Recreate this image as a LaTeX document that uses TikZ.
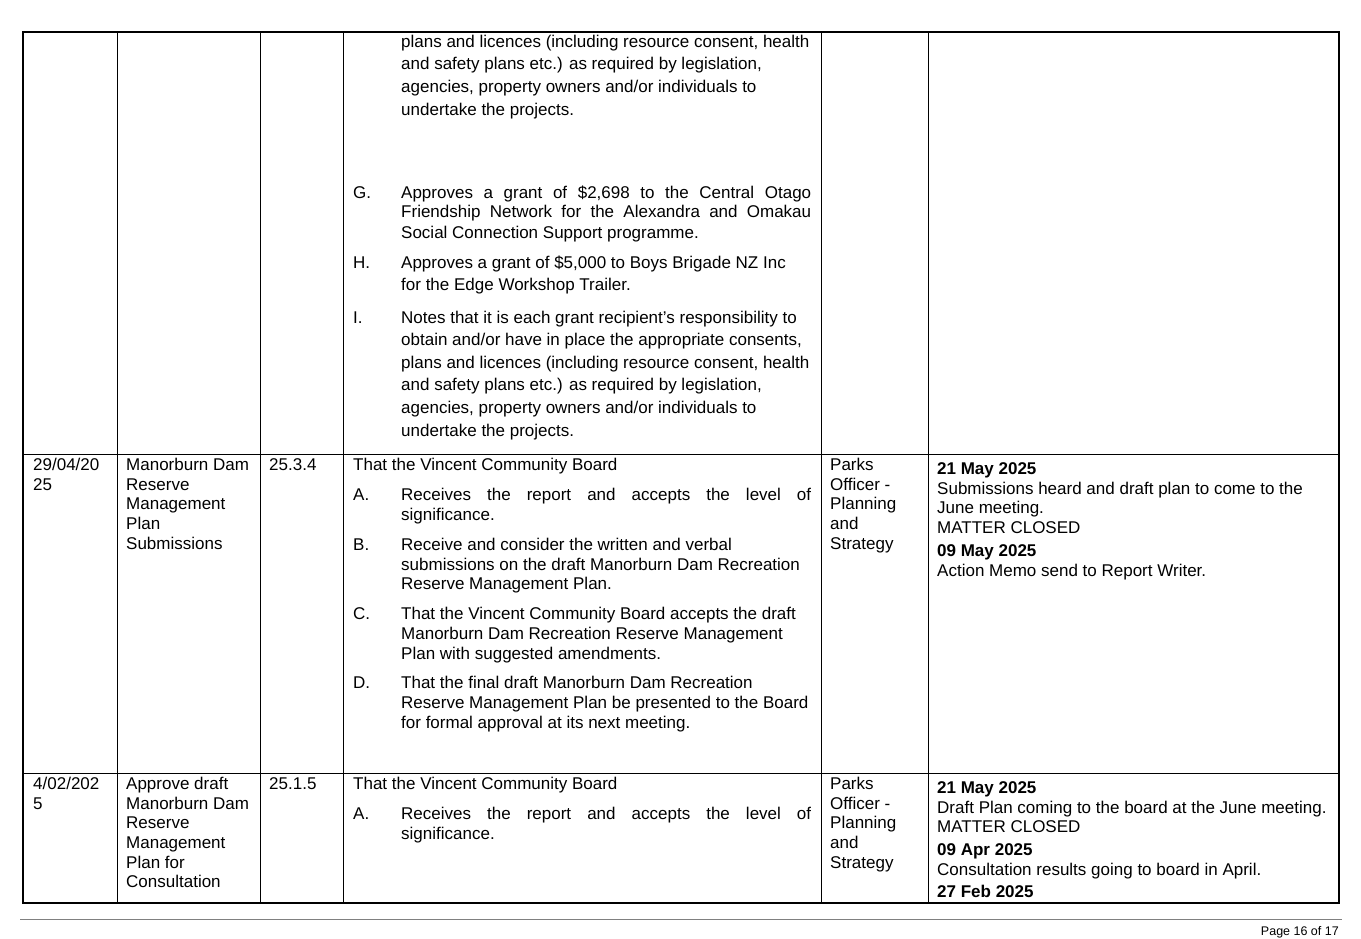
\documentclass[tikz,border=0pt]{standalone}
\usepackage{fontspec}
\setmainfont{Liberation Sans}
\tikzset{
  cell/.style={anchor=base west,inner sep=0pt,font=\fontsize{17}{20}\selectfont},
  hd/.style={cell,font=\fontsize{17}{20}\selectfont\bfseries},
  rule/.style={line width=1pt},
}
\newcommand{\jl}[1]{\makebox[410pt][s]{#1}}
\begin{document}
\begin{tikzpicture}[x=1pt,y=-1pt]
  \useasboundingbox (0,0) rectangle (1361,939);

  % Table frame
  \draw[line width=1.4pt] (23,32) rectangle (1339,903);
  \foreach \x in {117,260,343,821,928}
  \draw[rule] (\x,32) -- (\x,903);
  \foreach \y in {454,773}
  \draw[rule] (23,\y) -- (1339,\y);

  % Row 1, resolution text
  \foreach \y/\t in {43/{plans and licences (including resource consent, health},
    65/{and safety plans etc.) as required by legislation,},
    88/{agencies, property owners and/or individuals to},
    111/{undertake the projects.},
    233/{Social Connection Support programme.},
    263/{Approves a grant of \$5,000 to Boys Brigade NZ Inc},
    285/{for the Edge Workshop Trailer.},
    318/{Notes that it is each grant recipient’s responsibility to},
    340/{obtain and/or have in place the appropriate consents,},
    363/{plans and licences (including resource consent, health},
    385/{and safety plans etc.) as required by legislation,},
    408/{agencies, property owners and/or individuals to},
    431/{undertake the projects.}}
  \node[cell] at (401,\y+5) {\t};
  \node[cell] at (401,198) {\jl{Approves a grant of \$2,698 to the Central Otago}};
  \node[cell] at (401,218) {\jl{Friendship Network for the Alexandra and Omakau}};
  \foreach \y/\t in {193/G.,263/H.,318/I.}
  \node[cell] at (353,\y+5) {\t};

  % Row 2
  \foreach \y/\t in {465/{29/04/20},485/25}
  \node[cell] at (33,\y+5) {\t};
  \foreach \y/\t in {465/Manorburn Dam,485/Reserve,504/Management,524/Plan,544/Submissions}
  \node[cell] at (126,\y+5) {\t};
  \node[cell] (r2ref) at (269,470) {25.3.4};
  \node[cell] at (353,470) {That the Vincent Community Board};
  \foreach \y/\t in {495/A.,545/B.,614/C.,683/D.}
  \node[cell] at (353,\y+5) {\t};
  \node[cell] at (401,500) {\jl{Receives the report and accepts the level of}};
  \foreach \y/\t in {515/{significance.},
    545/{Receive and consider the written and verbal},
    565/{submissions on the draft Manorburn Dam Recreation},
    584/{Reserve Management Plan.},
    614/{That the Vincent Community Board accepts the draft},
    634/{Manorburn Dam Recreation Reserve Management},
    654/{Plan with suggested amendments.},
    683/{That the final draft Manorburn Dam Recreation},
    703/{Reserve Management Plan be presented to the Board},
    723/{for formal approval at its next meeting.}}
  \node[cell] at (401,\y+5) {\t};
  \foreach \y/\t in {465/Parks,485/Officer -,504/Planning,524/and,544/Strategy}
  \node[cell] at (830,\y+5) {\t};
  \node[hd] at (937,474) {21 May 2025};
  \foreach \y/\t in {489/{Submissions heard and draft plan to come to the},
    508/{June meeting.},528/{MATTER CLOSED},571/{Action Memo send to Report Writer.}}
  \node[cell] at (937,\y+5) {\t};
  \node[hd] at (937,556) {09 May 2025};

  % Row 3
  \foreach \y/\t in {784/{4/02/202},804/5}
  \node[cell] at (33,\y+5) {\t};
  \foreach \y/\t in {784/Approve draft,804/Manorburn Dam,823/Reserve,843/Management,863/Plan for,882/Consultation}
  \node[cell] at (126,\y+5) {\t};
  \node[cell] (r3ref) at (269,789) {25.1.5};
  \node[cell] at (353,789) {That the Vincent Community Board};
  \node[cell] at (353,819) {A.};
  \node[cell] at (401,819) {\jl{Receives the report and accepts the level of}};
  \node[cell] at (401,839) {significance.};
  \foreach \y/\t in {784/Parks,804/Officer -,823/Planning,843/and,863/Strategy}
  \node[cell] at (830,\y+5) {\t};
  \foreach \y/\t in {788/21 May 2025,850/09 Apr 2025,892/27 Feb 2025}
  \node[hd] at (937,\y+5) {\t};
  \foreach \y/\t in {808/{Draft Plan coming to the board at the June meeting.},
    827/{MATTER CLOSED},870/{Consultation results going to board in April.}}
  \node[cell] at (937,\y+5) {\t};

  % Footer
  \draw[gray,line width=0.6pt] (20,919) -- (1342,919);
  \node[anchor=base east,inner sep=0pt,font=\fontsize{12.5}{14}\selectfont] (page) at (1339,935) {Page 16 of 17};
\end{tikzpicture}
\end{document}
